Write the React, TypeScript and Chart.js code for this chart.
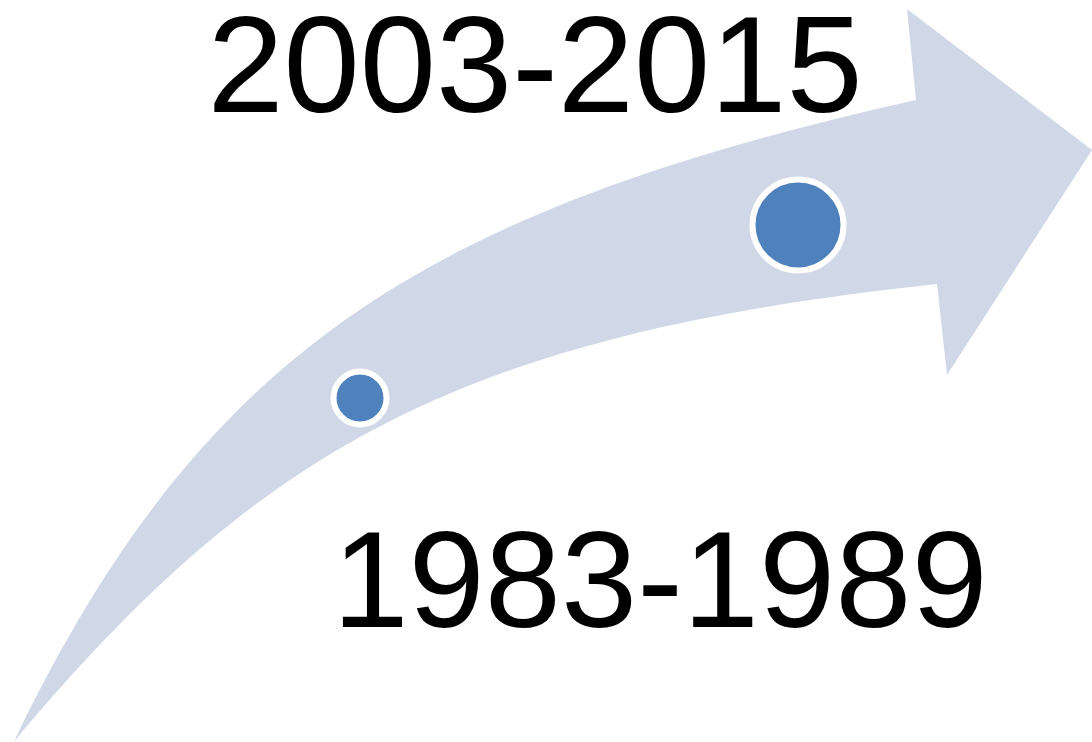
import React, { useEffect, useRef } from "react";
import { Chart, registerables } from "chart.js";

Chart.register(...registerables);

// Period labels and their anchor positions (data units: x 0..1092, y 0..742 top-down)
const periodLabels = ["1983-1989", "2003-2015"];
const labelX = [660, 535];
const labelY = [627, 112];

// Milestone markers
const markerX = [360, 798];
const markerY = [398, 225];
const markerRadius = [26.5, 45.5];

// Curved arrow outline (data units)
const arrowOuter = [
  [14, 742],
  [200, 357],
  [416, 212],
  [916, 100],
];
const arrowHead = [
  [907, 9],
  [1092, 150],
  [947, 375],
  [937, 284],
];
const arrowInner = [
  [937, 284],
  [460, 335],
  [260, 448],
  [14, 742],
];

const arrowPlugin = {
  id: "curvedArrow",
  beforeDatasetsDraw(chart: any) {
    const { ctx, scales } = chart;
    const px = (p: number[]) => [scales.x.getPixelForValue(p[0]), scales.y.getPixelForValue(p[1])];
    ctx.save();
    ctx.beginPath();
    const o = arrowOuter.map(px);
    ctx.moveTo(o[0][0], o[0][1]);
    ctx.bezierCurveTo(o[1][0], o[1][1], o[2][0], o[2][1], o[3][0], o[3][1]);
    arrowHead.map(px).forEach((p) => ctx.lineTo(p[0], p[1]));
    const i = arrowInner.map(px);
    ctx.bezierCurveTo(i[1][0], i[1][1], i[2][0], i[2][1], i[3][0], i[3][1]);
    ctx.closePath();
    ctx.fillStyle = "#D0D8E8";
    ctx.fill();
    ctx.restore();
  },
  afterDatasetsDraw(chart: any) {
    const { ctx, scales } = chart;
    ctx.save();
    ctx.fillStyle = "#000000";
    ctx.font = '137px "Liberation Sans", Arial, sans-serif';
    ctx.textAlign = "center";
    ctx.textBaseline = "alphabetic";
    periodLabels.forEach((t, k) => {
      ctx.fillText(t, scales.x.getPixelForValue(labelX[k]), scales.y.getPixelForValue(labelY[k]));
    });
    ctx.restore();
  },
};

export default function App() {
  const ref = useRef<HTMLCanvasElement | null>(null);
  useEffect(() => {
    if (!ref.current) return;
    const chart = new Chart(ref.current, {
      type: "scatter",
      data: {
        datasets: [
          {
            data: markerX.map((x, k) => ({ x, y: markerY[k] })),
            pointRadius: markerRadius,
            pointHoverRadius: markerRadius,
            backgroundColor: "#4F81BD",
            borderColor: "#FFFFFF",
            borderWidth: 6,
            pointBorderWidth: 6,
            clip: false,
          } as any,
        ],
      },
      options: {
        animation: false,
        responsive: true,
        maintainAspectRatio: false,
        layout: { padding: 0, autoPadding: false },
        plugins: { legend: { display: false }, tooltip: { enabled: false } },
        events: [],
        scales: {
          x: { type: "linear", min: 0, max: 1092, display: false },
          y: { type: "linear", min: 0, max: 742, reverse: true, display: false },
        },
      },
      plugins: [arrowPlugin],
    });
    return () => chart.destroy();
  }, []);
  return (
    <div style={{ position: "absolute", left: 0, top: 0, width: 1092, height: 742, background: "#fff" }}>
      <canvas ref={ref} />
    </div>
  );
}
